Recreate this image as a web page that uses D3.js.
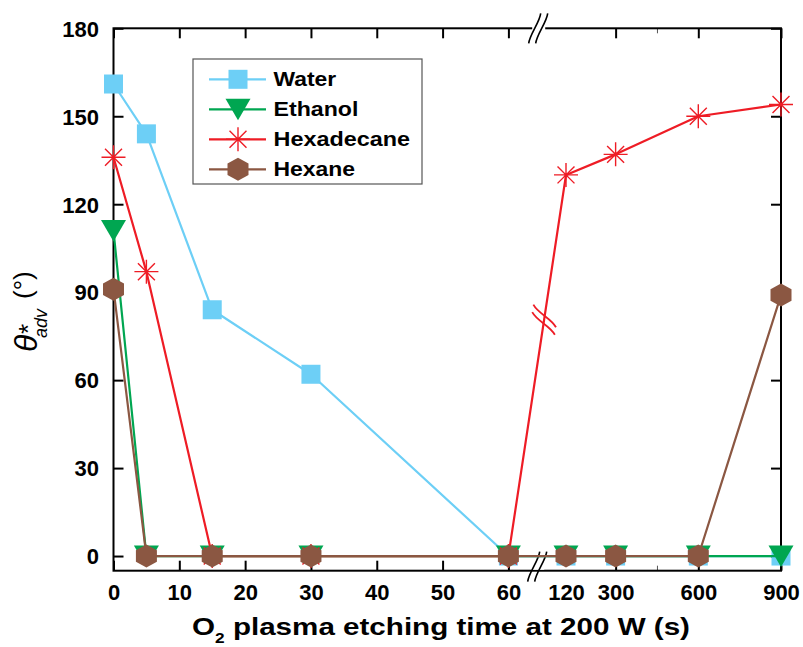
<!DOCTYPE html>
<html><head><meta charset="utf-8">
<script src="https://cdn.jsdelivr.net/npm/d3@7"></script>
<style>body{margin:0;background:#fff} svg{display:block}</style>
</head><body><svg id="c" width="803" height="647"></svg>
<script>
// ---- data ----
const timesA = [0, 5, 15, 30, 60];
const timesB = [120, 300, 600, 900];
const times = timesA.concat(timesB);
const water      = [161, 144, 84, 62, 0, 0, 0, 0, 0];
const ethanol    = [111, 0, 0, 0, 0, 0, 0, 0, 0];
const hexadecane = [136, 97, 0, 0, 0, 130, 137, 150, 154];
const hexane     = [91, 0, 0, 0, 0, 0, 0, 0, 89];
const seriesNames = ["Water", "Ethanol", "Hexadecane", "Hexane"];
const seriesValues = [water, ethanol, hexadecane, hexane];
const xTicksA = [0, 10, 20, 30, 40, 50, 60];
const xLabelsB = [120, 300, 600, 900];
const xMajorB = [300, 600, 900];
const xMinorB = [450];
const yTicks = [0, 30, 60, 90, 120, 150, 180];

// ---- styles ----
const colors = ["#6dcff6", "#00a651", "#ee1c25", "#8b5742"];
const shapes = ["square", "triDown", "star", "hex"];
const legendTextWidths = [62.7, 85, 136.7, 81.7];
const FONT = "'Liberation Sans', Arial, sans-serif";

const svg = d3.select("#c");
const L = 113.5, R = 781, T = 28.3, B = 570.7;
const xa = d3.scaleLinear().domain([0, 60]).range([L, 508.4]);
const xb = d3.scaleLinear().domain([120, 900]).range([566, R]);
const x = v => (v <= 60 ? xa(v) : xb(v));
const y = d3.scaleLinear().domain([-5, 180]).range([B, T]);
const breakX = (xa(60) + xb(120)) / 2;

function styleAxis(g) {
  g.select(".domain").remove();
  g.selectAll(".tick line").attr("stroke", "#000").attr("stroke-width", 2);
  g.selectAll("text").attr("font-family", FONT).attr("font-weight", "bold")
    .attr("font-size", 22).attr("fill", "#000");
}

// bottom axes
const gbA = svg.append("g").attr("transform", `translate(0,${B})`)
  .call(d3.axisBottom(xa).tickValues(xTicksA).tickSizeInner(-10).tickSizeOuter(0));
const gbB = svg.append("g").attr("transform", `translate(0,${B})`)
  .call(d3.axisBottom(xb).tickValues(xLabelsB).tickSizeInner(-10).tickSizeOuter(0));
const gbM = svg.append("g").attr("transform", `translate(0,${B})`)
  .call(d3.axisBottom(xb).tickValues(xMinorB).tickSizeInner(-5).tickSizeOuter(0).tickFormat(""));
[gbA, gbB, gbM].forEach(g => { styleAxis(g); g.selectAll("text").attr("y", 29.5).attr("dy", 0); });
gbB.selectAll(".tick").filter(d => xMajorB.indexOf(d) < 0).select("line").remove();
gbM.selectAll(".tick line").attr("stroke-width", 1).attr("stroke", "#555");

// top axes
const gtA = svg.append("g").attr("transform", `translate(0,${T})`)
  .call(d3.axisTop(xa).tickValues(xTicksA).tickSizeInner(-10).tickSizeOuter(0).tickFormat(""));
const gtB = svg.append("g").attr("transform", `translate(0,${T})`)
  .call(d3.axisTop(xb).tickValues(xMajorB).tickSizeInner(-10).tickSizeOuter(0).tickFormat(""));
const gtM = svg.append("g").attr("transform", `translate(0,${T})`)
  .call(d3.axisTop(xb).tickValues(xMinorB).tickSizeInner(-5).tickSizeOuter(0).tickFormat(""));
[gtA, gtB, gtM].forEach(styleAxis);
gtM.selectAll(".tick line").attr("stroke-width", 1).attr("stroke", "#555");

// left / right axes
const gl = svg.append("g").attr("transform", `translate(${L},0)`)
  .call(d3.axisLeft(y).tickValues(yTicks).tickSizeInner(-10).tickSizeOuter(0));
styleAxis(gl);
gl.selectAll("text").attr("x", -14.5).attr("dy", 7.8);
const gr = svg.append("g").attr("transform", `translate(${R},0)`)
  .call(d3.axisRight(y).tickValues(yTicks).tickSizeInner(-10).tickSizeOuter(0).tickFormat(""));
styleAxis(gr);

// frame
svg.append("rect").attr("x", L).attr("y", T).attr("width", R - L).attr("height", B - T)
  .attr("fill", "none").attr("stroke", "#000").attr("stroke-width", 2);

// axis breaks
function axisBreak(cx, cy) {
  svg.append("rect").attr("x", cx - 6).attr("y", cy - 3).attr("width", 13).attr("height", 6).attr("fill", "#fff");
  [-3.5, 3.5].forEach(o => {
    const x0 = cx + o;
    svg.append("path")
      .attr("d", `M${x0 - 6},${cy + 15} C${x0 - 5},${cy + 6} ${x0 + 5},${cy - 6} ${x0 + 6},${cy - 15}`)
      .attr("fill", "none").attr("stroke", "#000").attr("stroke-width", 1.6);
  });
}
axisBreak(breakX + 1, T);
axisBreak(breakX, B - 4);

// markers
function drawMarker(g, shape, color) {
  if (shape === "square") {
    g.append("rect").attr("x", -9.5).attr("y", -9.5).attr("width", 19).attr("height", 19).attr("fill", color);
  } else if (shape === "triDown") {
    g.append("path").attr("d", "M-12.5,-10.5 L12.5,-10.5 L0,11 Z").attr("fill", color);
  } else if (shape === "star") {
    const r = 12, d = r * Math.SQRT1_2;
    g.append("path").attr("d", `M${-r},0 L${r},0 M0,${-r} L0,${r} M${-d},${-d} L${d},${d} M${-d},${d} L${d},${-d}`)
      .attr("stroke", color).attr("stroke-width", 1.4).attr("fill", "none");
  } else if (shape === "hex") {
    g.append("path").attr("d", "M0,-11.5 L10.5,-5.75 L10.5,5.75 L0,11.5 L-10.5,5.75 L-10.5,-5.75 Z").attr("fill", color);
  }
}

// series
const line = d3.line().x((d, i) => x(times[i])).y(d => y(d));
seriesValues.forEach((vals, s) => {
  svg.append("path").attr("d", line(vals)).attr("fill", "none")
    .attr("stroke", colors[s]).attr("stroke-width", 2.2).attr("stroke-linejoin", "round");
  vals.forEach((v, i) => {
    drawMarker(svg.append("g").attr("transform", `translate(${x(times[i])},${y(v)})`), shapes[s], colors[s]);
  });
});

// break mark on hexadecane line (between 60 and 120)
(function () {
  const i0 = times.indexOf(60), i1 = times.indexOf(120);
  const p0 = [x(60), y(hexadecane[i0])], p1 = [x(120), y(hexadecane[i1])];
  const t = 0.62;
  const c = [p0[0] + t * (p1[0] - p0[0]), p0[1] + t * (p1[1] - p0[1])];
  const len = Math.hypot(p1[0] - p0[0], p1[1] - p0[1]);
  const dir = [(p1[0] - p0[0]) / len, (p1[1] - p0[1]) / len];
  const u = [Math.SQRT1_2, Math.SQRT1_2], n = [-Math.SQRT1_2, Math.SQRT1_2];
  [-3.8, 3.8].forEach(o => {
    const cc = [c[0] + dir[0] * o, c[1] + dir[1] * o];
    const s = [cc[0] - 16 * u[0], cc[1] - 16 * u[1]], e = [cc[0] + 16 * u[0], cc[1] + 16 * u[1]];
    const c1 = [s[0] + 10 * u[0] + 3 * n[0], s[1] + 10 * u[1] + 3 * n[1]];
    const c2 = [e[0] - 10 * u[0] - 3 * n[0], e[1] - 10 * u[1] - 3 * n[1]];
    svg.append("path").attr("d", `M${s} C${c1} ${c2} ${e}`).attr("fill", "none")
      .attr("stroke", colors[2]).attr("stroke-width", 1.8);
  });
})();

// legend
svg.append("rect").attr("x", 193).attr("y", 59).attr("width", 229).attr("height", 125)
  .attr("fill", "#fff").attr("stroke", "#555").attr("stroke-width", 1.2);
seriesNames.forEach((name, s) => {
  const cy = 79.3 + s * 30;
  svg.append("line").attr("x1", 209).attr("x2", 266).attr("y1", cy).attr("y2", cy)
    .attr("stroke", colors[s]).attr("stroke-width", 2.2);
  drawMarker(svg.append("g").attr("transform", `translate(238,${cy})`), shapes[s], colors[s]);
  const tx = svg.append("text").attr("font-family", FONT).attr("font-weight", "bold")
    .attr("font-size", 20).attr("fill", "#000").text(name);
  const w = tx.node().getComputedTextLength();
  tx.attr("transform", `translate(273.5,${cy + 7}) scale(${legendTextWidths[s] / w},1)`);
});

// x title
const xt = svg.append("text").attr("font-family", FONT).attr("font-weight", "bold")
  .attr("font-size", 24).attr("fill", "#000").attr("text-anchor", "middle");
xt.append("tspan").text("O");
xt.append("tspan").attr("font-size", 14).attr("dy", 8).text("2");
xt.append("tspan").attr("dy", -8).text(" plasma etching time at 200 W (s)");
const xw = xt.node().getComputedTextLength();
xt.attr("transform", `translate(441,635) scale(${498 / xw},1)`);

// y title
const yt = svg.append("text").attr("font-family", FONT).attr("fill", "#000")
  .attr("transform", "translate(37,352) rotate(-90)");
yt.append("tspan").attr("x", 0).attr("y", 0).attr("font-size", 32).attr("font-style", "italic").text("θ");
yt.append("tspan").attr("x", 18).attr("y", 0).attr("font-size", 26).text("*");
yt.append("tspan").attr("x", 14).attr("y", 10).attr("font-size", 18).attr("font-style", "italic").text("adv");
yt.append("tspan").attr("x", 53).attr("y", -5.5).attr("font-size", 26).text("(°)");
</script></body></html>
